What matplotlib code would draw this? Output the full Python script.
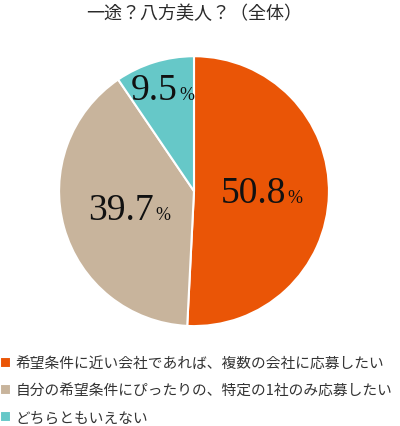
import numpy as np
import matplotlib.pyplot as plt
from matplotlib.offsetbox import TextArea, HPacker, AnnotationBbox

# データ
labels = ["希望条件に近い会社であれば、複数の会社に応募したい",
          "自分の希望条件にぴったりの、特定の1社のみ応募したい",
          "どちらともいえない"]
values = [50.8, 39.7, 9.5]
colors = ["#EA5506", "#C8B49C", "#66C8C8"]
label_dist = [0.50, 0.50, 0.79]

plt.rcParams['font.family'] = ['Noto Sans CJK JP', 'DejaVu Sans']

fig = plt.figure(figsize=(4.0, 4.27), dpi=100)
ax = fig.add_axes([0.1475, 0.234, 0.675, 0.632])

wedges, _ = ax.pie(values, colors=colors, startangle=90, counterclock=False,
                   radius=1.0, wedgeprops=dict(edgecolor="white", linewidth=1.5))
ax.set_xlim(-1, 1)
ax.set_ylim(-1, 1)
ax.set_aspect("equal")
ax.axis("off")

# ラベル（数字と%を別サイズで）
for w, v, d in zip(wedges, values, label_dist):
    ang = np.deg2rad((w.theta1 + w.theta2) / 2)
    x, y = d * np.cos(ang), d * np.sin(ang)
    num = TextArea(f"{v:.1f}", textprops=dict(family="Liberation Serif", size=27, color="#111111"))
    pct = TextArea("%", textprops=dict(family="Liberation Serif", size=13, color="#111111"))
    box = HPacker(children=[num, pct], align="baseline", pad=0, sep=1)
    ab = AnnotationBbox(box, (x, y), frameon=False, box_alignment=(0.5, 0.5))
    ax.add_artist(ab)

fig.text(0.485, 0.968, "一途？八方美人？（全体）", ha="center", va="center",
         fontsize=13, color="#2a2a2a")

fig.legend(wedges, labels, loc="upper left", bbox_to_anchor=(0.0, 0.162),
           frameon=False, fontsize=10.6, handlelength=0.78, handleheight=0.78,
           handletextpad=0.3, labelspacing=0.86, borderaxespad=0, borderpad=0,
           labelcolor="#333333")

fig.savefig("out.png", dpi=100)
